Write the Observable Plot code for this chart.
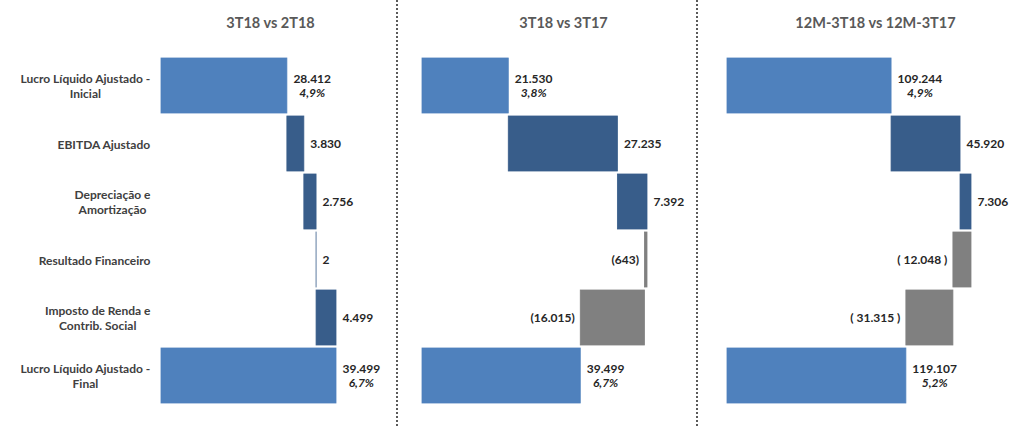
<!DOCTYPE html>
<html><head><meta charset="utf-8">
<script src="https://cdn.jsdelivr.net/npm/d3@7"></script>
<script src="https://cdn.jsdelivr.net/npm/@observablehq/plot@0.6"></script>
<style>
body{margin:0;background:#fff;font-family:Lato,sans-serif}
#wrap{position:relative;width:1024px;height:426px;overflow:hidden;background:#fff}
.panel{position:absolute;top:0}
.sep{position:absolute;top:0;height:426px;width:0;border-left:2px dotted #5a5a5a}
</style></head><body><div id="wrap"></div>
<script>
// ---- data ----
const categories = ["Lucro Líquido Ajustado - Inicial","EBITDA Ajustado","Depreciação e Amortização","Resultado Financeiro","Imposto de Renda e Contrib. Social","Lucro Líquido Ajustado - Final"];
const categoryLines = [["Lucro Líquido Ajustado -","Inicial"],["EBITDA Ajustado"],["Depreciação e","Amortização"],["Resultado Financeiro"],["Imposto de Renda e","Contrib. Social"],["Lucro Líquido Ajustado -","Final"]];
const isTotal = [true,false,false,false,false,true];
const titles = ["3T18 vs 2T18","3T18 vs 3T17","12M-3T18 vs 12M-3T17"];
const values3T18vs2T18 = [28412, 3830, 2756, 2, 4499, 39499];
const values3T18vs3T17 = [21530, 27235, 7392, -643, -16015, 39499];
const values12M = [109244, 45920, 7306, -12048, -31315, 119107];
const margins3T18vs2T18 = ["4,9%", "6,7%"];
const margins3T18vs3T17 = ["3,8%", "6,7%"];
const margins12M = ["4,9%", "5,2%"];

// ---- styling / layout ----
const C_TOTAL = "#4f81bd", C_UP = "#385d8a", C_DOWN = "#808080";
const FONT = "Lato, sans-serif";
const fmtNum = n => d3.format(",")(Math.abs(n)).replace(/,/g, ".");
const panels = [
  {left: 0, width: 397, marginLeft: 161, marginRight: 61, values: values3T18vs2T18, margins: margins3T18vs2T18, titleX: 270, neg: s => `(${s})`, showCats: true},
  {left: 399, width: 301, marginLeft: 23, marginRight: 53, values: values3T18vs3T17, margins: margins3T18vs3T17, titleX: 563, neg: s => `(${s})`},
  {left: 702, width: 322, marginLeft: 25, marginRight: 53, values: values12M, margins: margins12M, titleX: 875, neg: s => `( ${s} )`}
];

const ctx = document.createElement("canvas").getContext("2d");
function textW(t, font) { ctx.font = font; return ctx.measureText(t).width; }

const wrap = document.getElementById("wrap");
for (const p of panels) {
  let run = 0;
  const rows = categories.map((c, i) => {
    const v = p.values[i];
    let x1, x2;
    if (isTotal[i]) { x1 = 0; x2 = v; run = v; }
    else { x1 = run; x2 = run + v; run += v; }
    return {cat: c, i, v, x1, x2, lo: Math.min(x1, x2), hi: Math.max(x1, x2),
      color: isTotal[i] ? C_TOTAL : (v >= 0 ? C_UP : C_DOWN),
      label: v < 0 ? p.neg(fmtNum(v)) : fmtNum(v)};
  });
  const maxX = d3.max(rows, d => d.hi);
  const marks = [
    Plot.barX(rows, {y: "cat", x1: "x1", x2: "x2", fill: "color", stroke: "color", strokeWidth: 0.8}),
    // deltas: positive labels on the right, negative on the left
    Plot.text(rows.filter(d => !isTotal[d.i] && d.v >= 0), {y: "cat", x: "hi", text: "label", textAnchor: "start", dx: 6, fontSize: 12, fontWeight: "bold", fill: "#262626"}),
    Plot.text(rows.filter(d => !isTotal[d.i] && d.v < 0), {y: "cat", x: "lo", text: "label", textAnchor: "end", dx: -6, fontSize: 12, fontWeight: "bold", fill: "#262626"}),
    // title
    Plot.text([p.titleX], {frameAnchor: "top-left", text: () => titles[panels.indexOf(p)], dx: p.titleX - p.left - p.marginLeft, dy: -33, textAnchor: "middle", lineAnchor: "middle", fontSize: 14.5, fontWeight: "bold", fill: "#595959"})
  ];
  // totals: value + margin % centred under it
  rows.filter(d => isTotal[d.i]).forEach((d, k) => {
    const w = textW(d.label, "bold 12px Lato");
    const off = 6 + w / 2;
    marks.push(Plot.text([d], {y: "cat", x: "hi", text: "label", textAnchor: "middle", dx: off, dy: -7, fontSize: 12, fontWeight: "bold", fill: "#262626"}));
    marks.push(Plot.text([d], {y: "cat", x: "hi", text: () => p.margins[k], textAnchor: "middle", dx: off, dy: 7, fontSize: 12, fontWeight: "bold", fontStyle: "italic", fill: "#262626"}));
  });
  if (p.showCats) {
    categories.forEach((c, i) => {
      const lines = categoryLines[i];
      const w = d3.max(lines, l => textW(l, "bold 12px Lato"));
      marks.push(Plot.text([c], {y: d => d, frameAnchor: "left", text: () => lines.join("\n"), textAnchor: "middle", lineAnchor: "middle", lineHeight: 1.17, dx: -(11 + w / 2), fontSize: 12, fontWeight: "bold", fill: "#404040"}));
    });
  }
  const svg = Plot.plot({
    width: p.width, height: 426,
    marginLeft: p.marginLeft, marginRight: p.marginRight, marginTop: 56, marginBottom: 20,
    style: {fontFamily: FONT, overflow: "visible", background: "transparent"},
    x: {domain: [0, maxX], axis: null},
    y: {domain: categories, paddingInner: 0.05, paddingOuter: 0, axis: null},
    marks
  });
  svg.classList.add("panel");
  svg.style.left = p.left + "px";
  wrap.appendChild(svg);
}
for (const x of [396, 696]) {
  const s = document.createElement("div");
  s.className = "sep"; s.style.left = x + "px";
  wrap.appendChild(s);
}
</script></body></html>
